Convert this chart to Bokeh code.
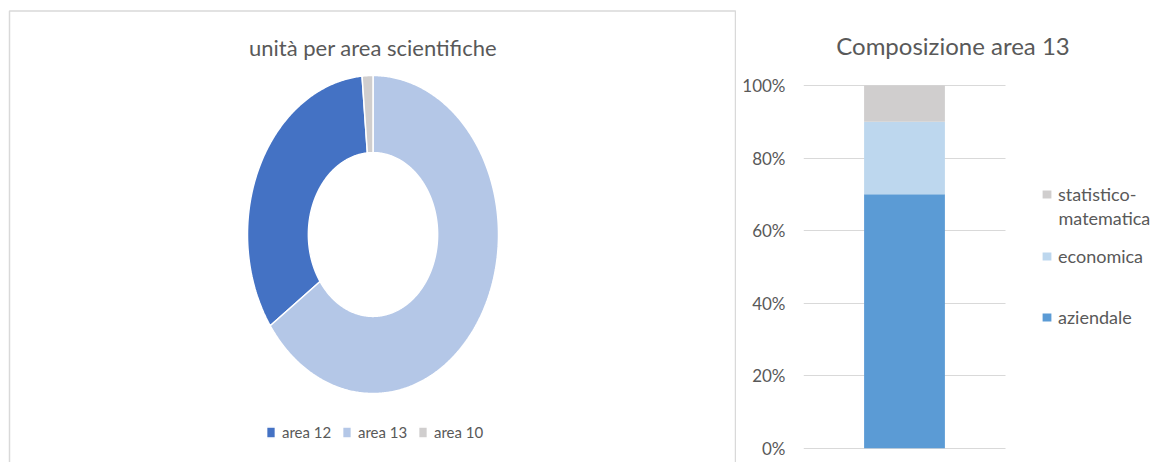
import numpy as np
from bokeh.plotting import figure
from bokeh.models import (Range1d, BoxAnnotation, Label, Legend, LegendItem,
                          FixedTicker, NumeralTickFormatter, ColumnDataSource)
from bokeh.layouts import row
from bokeh.embed import file_html
from bokeh.resources import INLINE

# ---------------- data ----------------
area_labels = ["area 12", "area 13", "area 10"]
area_units = [24, 47, 1]
area_colors = ["#4472C4", "#B4C7E7", "#D0CECE"]

bar_category = ["area 13"]
comp_names = ["aziendale", "economica", "statistico"]
comp_labels = ["aziendale", "economica", "statistico-"]
comp_label_2nd_line = "matematica"
aziendale = [0.70]
economica = [0.20]
statistico = [0.10]
comp_colors = ["#5B9BD5", "#BDD7EE", "#D0CECE"]
y_ticks = [0, 0.2, 0.4, 0.6, 0.8, 1.0]

# ---------------- styling ----------------
FONT = "Lato"
TXT = "#595959"
GRID = "#D9D9D9"
W1, W2, H = 736, 420, 462

# ---------------- left: donut ----------------
cx_px, cy_px = 372.5, 234.0
rx_px, ry_px = 125.5, 159.0
x0, x1 = -cx_px / rx_px, (W1 - cx_px) / rx_px
y0, y1 = -(H - cy_px) / ry_px, cy_px / ry_px

p1 = figure(width=W1, height=H, output_backend="svg", toolbar_location=None,
            x_range=Range1d(x0, x1), y_range=Range1d(y0, y1),
            x_axis_location=None, y_axis_location=None,
            min_border=0, min_border_left=0, min_border_right=0,
            min_border_top=0, min_border_bottom=0)
p1.grid.visible = False
p1.outline_line_color = None

r_in = 0.515
fr = np.array(area_units, dtype=float) / sum(area_units)
a0 = np.pi / 2 + fr[-1] * 2 * np.pi
xs, ys = [], []
for f in fr:
    a1 = a0 + f * 2 * np.pi
    n = max(int(f * 720), 6)
    t = np.linspace(a0, a1, n)
    xs.append(list(np.concatenate([np.cos(t), r_in * np.cos(t[::-1])])))
    ys.append(list(np.concatenate([np.sin(t), r_in * np.sin(t[::-1])])))
    a0 = a1
dsrc = ColumnDataSource(dict(xs=xs, ys=ys, color=area_colors, label=area_labels))
rd = p1.patches("xs", "ys", source=dsrc, fill_color="color",
                line_color="white", line_width=1.5)

leg1 = Legend(items=[LegendItem(label=area_labels[i], renderers=[rd], index=i) for i in range(3)],
              orientation="horizontal", location=(265, 21),
              glyph_width=11, glyph_height=14, label_standoff=6, label_width=50,
              spacing=9, padding=0, margin=0, border_line_color=None,
              background_fill_alpha=0, label_text_font=FONT,
              label_text_font_size="15px", label_text_color=TXT)
p1.add_layout(leg1)

p1.add_layout(Label(x=cx_px, y=H - 47, x_units="screen", y_units="screen",
                    text="unità per area scientifiche", text_align="center",
                    text_baseline="middle", text_font=FONT,
                    text_font_size="22px", text_color=TXT))

# chart-area border (open at the bottom, which is cut off)
p1.add_layout(BoxAnnotation(left=x0 + 9.0 / rx_px, right=x0 + 735.0 / rx_px,
                            top=y1 - 10.5 / ry_px, bottom=y0 - 0.1,
                            fill_alpha=0, line_color=GRID, line_width=1.5,
                            line_alpha=1))

# ---------------- right: stacked bar ----------------
gx_px = 202.0          # width of the gridded plot area
fw = W2 - 67           # frame width
yu = 362.7             # px per 100%
yb, yt = H - 447.7, 85.0   # px below 0% / above 100%
p2 = figure(width=W2, height=H, output_backend="svg", toolbar_location=None,
            x_range=Range1d(-0.5, -0.5 + fw / gx_px),
            y_range=Range1d(-yb / yu, 1 + yt / yu),
            x_axis_location=None,
            min_border_left=67, min_border_right=0, min_border_top=0, min_border_bottom=0)
p2.outline_line_color = None
src = ColumnDataSource(dict(x=list(range(len(bar_category))), cat=bar_category,
                            aziendale=aziendale, economica=economica,
                            statistico=statistico))
rs = p2.vbar_stack(comp_names, x="x", width=0.4, color=comp_colors,
                   line_color=None, source=src)

ya = p2.yaxis[0]
ya.ticker = FixedTicker(ticks=y_ticks)
ya.formatter = NumeralTickFormatter(format="0%")
ya.axis_line_color = None
ya.major_tick_line_color = None
ya.minor_tick_line_color = None
ya.major_tick_in = 0
ya.major_tick_out = 0
ya.major_label_standoff = 18
ya.major_label_text_font = FONT
ya.major_label_text_font_size = "17px"
ya.major_label_text_color = TXT
p2.ygrid.grid_line_color = GRID
p2.ygrid.ticker = FixedTicker(ticks=y_ticks)
p2.ygrid.cross_bounds = (-0.5, 0.5)
p2.xgrid.visible = False

p2.add_layout(Label(x=149.5, y=H - 45, x_units="screen", y_units="screen",
                    text="Composizione area 13", text_align="center",
                    text_baseline="middle", text_font=FONT,
                    text_font_size="24px", text_color=TXT))

leg_y = {2: H - 205.0, 1: H - 266.5, 0: H - 327.5}
for i in [2, 1, 0]:
    lg = Legend(items=[LegendItem(label=comp_labels[i], renderers=[rs[i]])],
                location=(238, leg_y[i]), glyph_width=11, glyph_height=10,
                label_standoff=6, label_height=22, padding=0, margin=0,
                border_line_color=None, background_fill_alpha=0,
                label_text_font=FONT, label_text_font_size="18px",
                label_text_color=TXT)
    p2.add_layout(lg)
p2.add_layout(Label(x=238 + 11 + 6, y=H - 217.7, x_units="screen", y_units="screen",
                    text=comp_label_2nd_line, text_align="left",
                    text_baseline="middle", text_font=FONT,
                    text_font_size="18px", text_color=TXT))

layout = row(p1, p2)
open("out.html", "w").write(file_html(layout, INLINE))
